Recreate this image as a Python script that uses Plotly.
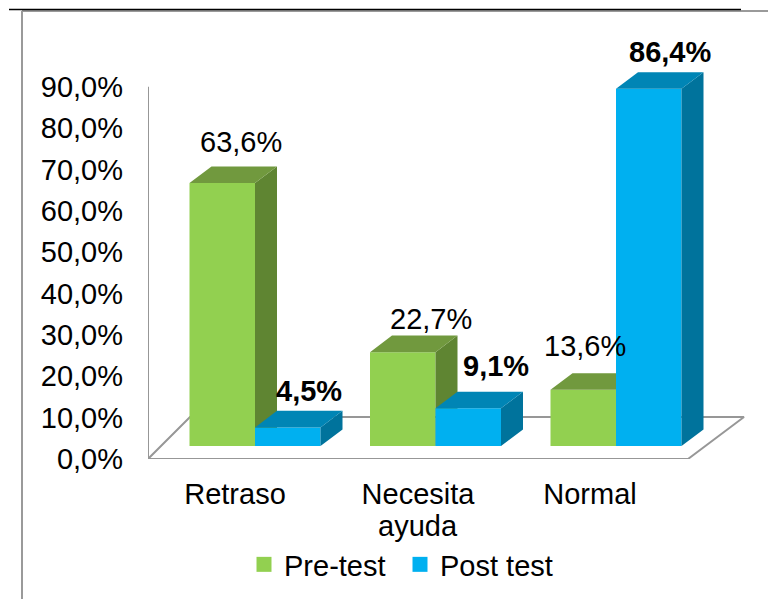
import plotly.graph_objects as go

# ---- data ----
CATEGORIES = ["Retraso", "Necesita\nayuda", "Normal"]
PRE_TEST = [63.6, 22.7, 13.6]
POST_TEST = [4.5, 9.1, 86.4]
PRE_LABELS = ["63,6%", "22,7%", "13,6%"]
POST_LABELS = ["4,5%", "9,1%", "86,4%"]
Y_TICKS = [0, 10, 20, 30, 40, 50, 60, 70, 80, 90]
Y_TICK_TEXT = ["0,0%", "10,0%", "20,0%", "30,0%", "40,0%", "50,0%", "60,0%", "70,0%", "80,0%", "90,0%"]

# ---- geometry / style ----
W, H = 768, 599
L, B = 148, 140
PX_X = 180.5          # px per category
PX_Y = 4.135          # px per percent
CENTER0 = 255
X_RANGE = [(L - CENTER0) / PX_X, (W - CENTER0) / PX_X]
Y_RANGE = [0, (H - B) / PX_Y]
BAR_W = 65.5 / PX_X
DX = 22 / PX_X
DY = 16.6 / PX_Y
BASE = 13 / PX_Y
FONT = "Liberation Sans, Arial, sans-serif"
FS = 29
GRAY = "#979797"

def faces(values, offset):
    sx, sy, tx, ty = [], [], [], []
    for i, v in enumerate(values):
        x0 = i + offset
        x1 = x0 + BAR_W
        y0 = BASE
        y1 = BASE + v
        sx += [x1, x1 + DX, x1 + DX, x1, None]
        sy += [y0, y0 + DY, y1 + DY, y1, None]
        tx += [x0, x0 + DX, x1 + DX, x1, None]
        ty += [y1, y1 + DY, y1 + DY, y1, None]
    return sx, sy, tx, ty

def poly(x, y, color, xa, ya):
    return go.Scatter(x=x, y=y, xaxis=xa, yaxis=ya, mode="lines", fill="toself", fillcolor=color,
                      line=dict(width=0, color=color), showlegend=False, hoverinfo="skip", cliponaxis=False)

fig = go.Figure()

# floor and wall edge, on the base axes (below both bar series)
left = X_RANGE[0]
fig.add_trace(go.Scatter(
    x=[left, left, (688 - CENTER0) / PX_X, (744 - CENTER0) / PX_X, (190 - CENTER0) / PX_X, left],
    y=[90, 0, 0, 42 / PX_Y, 42 / PX_Y, 0],
    mode="lines", line=dict(color=GRAY, width=2), showlegend=False, hoverinfo="skip", cliponaxis=False))

idx = list(range(len(CATEGORIES)))

# Pre-test
fig.add_trace(go.Bar(x=idx, y=PRE_TEST, base=BASE, width=BAR_W, offset=-BAR_W, marker=dict(color="#92D050", line=dict(width=0)),
                     showlegend=False, name="Pre-test", xaxis="x2", yaxis="y2"))
sx, sy, tx, ty = faces(PRE_TEST, -BAR_W)
fig.add_trace(poly(sx, sy, "#5F8532", "x2", "y2"))
fig.add_trace(poly(tx, ty, "#71993E", "x2", "y2"))

# Post test, on a higher overlaying pair of axes so it covers the Pre-test faces
fig.add_trace(go.Bar(x=idx, y=POST_TEST, base=BASE, width=BAR_W, offset=0, marker=dict(color="#00B0F0", line=dict(width=0)),
                     showlegend=False, name="Post test", xaxis="x3", yaxis="y3"))
sx, sy, tx, ty = faces(POST_TEST, 0)
fig.add_trace(poly(sx, sy, "#00739C", "x3", "y3"))
fig.add_trace(poly(tx, ty, "#0085B5", "x3", "y3"))

# legend entries
for name, color in (("Pre-test", "#92D050"), ("Post test", "#00B0F0")):
    fig.add_trace(go.Scatter(x=[None], y=[None], mode="markers", name=name,
                             marker=dict(symbol="square", size=15, color=color)))

# data labels
annotations = []
PRE_SHIFT = [(19, -41), (28, -33), (2, -44)]
POST_SHIFT = [(21, -36), (28, -42), (21, -37)]
for i in idx:
    annotations.append(dict(x=i - BAR_W / 2, y=BASE + PRE_TEST[i], text=PRE_LABELS[i], showarrow=False,
                            xshift=PRE_SHIFT[i][0], yshift=-PRE_SHIFT[i][1], font=dict(size=FS, color="#000000", family=FONT)))
    annotations.append(dict(x=i + BAR_W / 2, y=BASE + POST_TEST[i], text="<b>%s</b>" % POST_LABELS[i], showarrow=False,
                            xshift=POST_SHIFT[i][0], yshift=-POST_SHIFT[i][1], font=dict(size=FS, color="#000000", family=FONT)))

# category labels: Excel draws them left of the bar pairs
CAT_SHIFT = [-20, -17.5, -26]
tickvals = [i + CAT_SHIFT[i] / PX_X for i in idx]
ticktext = [c.split("\n")[0] for c in CATEGORIES]
for i, c in enumerate(CATEGORIES):
    for n, extra in enumerate(c.split("\n")[1:], start=1):
        annotations.append(dict(x=tickvals[i], y=0, text=extra, showarrow=False, yanchor="middle",
                                yshift=-(526 - 459) * n, font=dict(size=FS, color="#000000", family=FONT)))

def paper_x(px):
    return (px - L) / (W - L)

def paper_y(py):
    return (H - B - py) / (H - B)

shapes = [
    dict(type="line", xref="paper", yref="paper", x0=paper_x(22), x1=paper_x(22), y0=paper_y(11), y1=paper_y(599),
         line=dict(color="#9A9A9A", width=2)),
    dict(type="line", xref="paper", yref="paper", x0=paper_x(22), x1=paper_x(768), y0=paper_y(11), y1=paper_y(11),
         line=dict(color="#9A9A9A", width=2)),
    dict(type="line", xref="paper", yref="paper", x0=paper_x(9), x1=paper_x(741), y0=paper_y(9.5), y1=paper_y(9.5),
         line=dict(color="#000000", width=1.5)),
]

fig.update_layout(
    width=W, height=H, autosize=False,
    margin=dict(l=L, r=0, t=0, b=B, pad=0),
    paper_bgcolor="#FFFFFF", plot_bgcolor="rgba(0,0,0,0)",
    barmode="overlay",
    font=dict(family=FONT, size=FS, color="#000000"),
    xaxis=dict(range=X_RANGE, tickmode="array", tickvals=tickvals, ticktext=ticktext, showgrid=False, zeroline=False,
               showline=False, ticks="", ticklabelstandoff=15, tickfont=dict(size=FS), fixedrange=True),
    yaxis=dict(range=Y_RANGE, tickmode="array", tickvals=Y_TICKS, ticktext=Y_TICK_TEXT, showgrid=False, zeroline=False,
               showline=False, ticks="", ticklabelstandoff=24, tickfont=dict(size=FS), fixedrange=True),
    xaxis2=dict(range=X_RANGE, visible=False, overlaying="x", fixedrange=True),
    yaxis2=dict(range=Y_RANGE, visible=False, overlaying="y", fixedrange=True),
    xaxis3=dict(range=X_RANGE, visible=False, overlaying="x", fixedrange=True),
    yaxis3=dict(range=Y_RANGE, visible=False, overlaying="y", fixedrange=True),
    legend=dict(orientation="h", x=paper_x(244), xanchor="left", y=paper_y(539), yanchor="top",
                font=dict(size=FS), bgcolor="rgba(0,0,0,0)", itemclick=False, itemdoubleclick=False,
                entrywidth=111, entrywidthmode="pixels"),
    annotations=annotations, shapes=shapes, hovermode=False,
)

fig.write_html("out.html", config=dict(displayModeBar=False),
               post_script="document.body.style.margin='0';document.documentElement.style.overflow='hidden';")
